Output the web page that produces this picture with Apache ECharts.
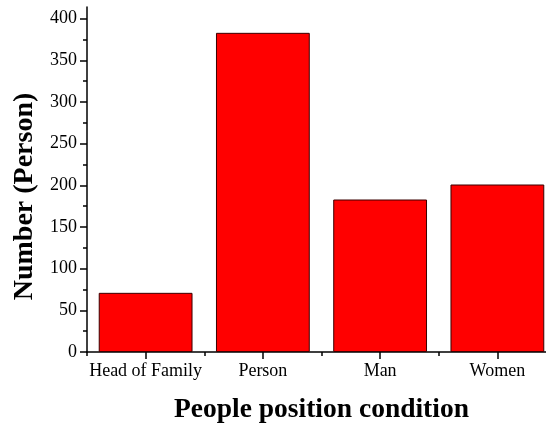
<!DOCTYPE html>
<html>
<head>
<meta charset="utf-8">
<script src="https://cdn.jsdelivr.net/npm/echarts@6/dist/echarts.min.js"></script>
<style>
html,body{margin:0;padding:0;background:#fff;}
#chart{width:546px;height:423px;}
</style>
</head>
<body>
<div id="chart"></div>
<script>
const categories = ['Head of Family', 'Person', 'Man', 'Women'];
const values = [71, 383, 183, 201];
const yMajorTicks = [0, 50, 100, 150, 200, 250, 300, 350, 400];
const yMinorTicks = [25, 75, 125, 175, 225, 275, 325, 375];
const xTitle = 'People position condition';
const yTitle = 'Number (Person)';

const FONT = '"Liberation Serif", "Times New Roman", serif';
const chart = echarts.init(document.getElementById('chart'), null, {renderer: 'canvas'});
chart.setOption({
  animation: false,
  backgroundColor: '#fff',
  grid: {left: 87, top: 7, width: 469, bottom: 71, containLabel: false, outerBoundsMode: 'none'},
  xAxis: [{
    type: 'category',
    data: categories,
    position: 'bottom',
    name: xTitle,
    nameLocation: 'middle',
    nameGap: 44,
    nameTextStyle: {fontFamily: FONT, fontSize: 27.5, fontWeight: 'bold', color: '#000'},
    axisLine: {show: true, lineStyle: {color: '#000', width: 1.5}},
    axisTick: {show: true, alignWithLabel: true, length: 7, interval: 0, lineStyle: {color: '#000', width: 1.5}},
    axisLabel: {interval: 0, margin: 10, fontFamily: FONT, fontSize: 18, color: '#000'},
    splitLine: {show: false}
  }, {
    type: 'category',
    data: categories,
    position: 'bottom',
    axisLine: {show: false},
    axisTick: {show: true, alignWithLabel: false, length: 4, interval: 0, lineStyle: {color: '#000', width: 1.5}},
    axisLabel: {show: false},
    splitLine: {show: false}
  }],
  yAxis: [{
    type: 'value',
    min: 0,
    max: 414,
    interval: 50,
    name: yTitle,
    nameLocation: 'middle',
    nameGap: 48,
    nameRotate: 90,
    nameTextStyle: {fontFamily: FONT, fontSize: 28, fontWeight: 'bold', color: '#000', padding: [0, 34, 0, 0]},
    axisLine: {show: true, lineStyle: {color: '#000', width: 1.5}},
    axisTick: {show: true, length: 7, customValues: yMajorTicks, lineStyle: {color: '#000', width: 1.5}},
    axisLabel: {margin: 10, fontFamily: FONT, fontSize: 18, color: '#000', customValues: yMajorTicks},
    splitLine: {show: false}
  }, {
    type: 'value',
    min: 0,
    max: 414,
    position: 'left',
    axisLine: {show: false},
    axisTick: {show: true, length: 4, customValues: yMinorTicks, lineStyle: {color: '#000', width: 1.5}},
    axisLabel: {show: false},
    splitLine: {show: false}
  }],
  series: [{
    type: 'bar',
    data: values,
    barWidth: '80%',
    itemStyle: {color: '#ff0000', borderColor: '#3a0000', borderWidth: 1}
  }]
});
</script>
</body>
</html>
